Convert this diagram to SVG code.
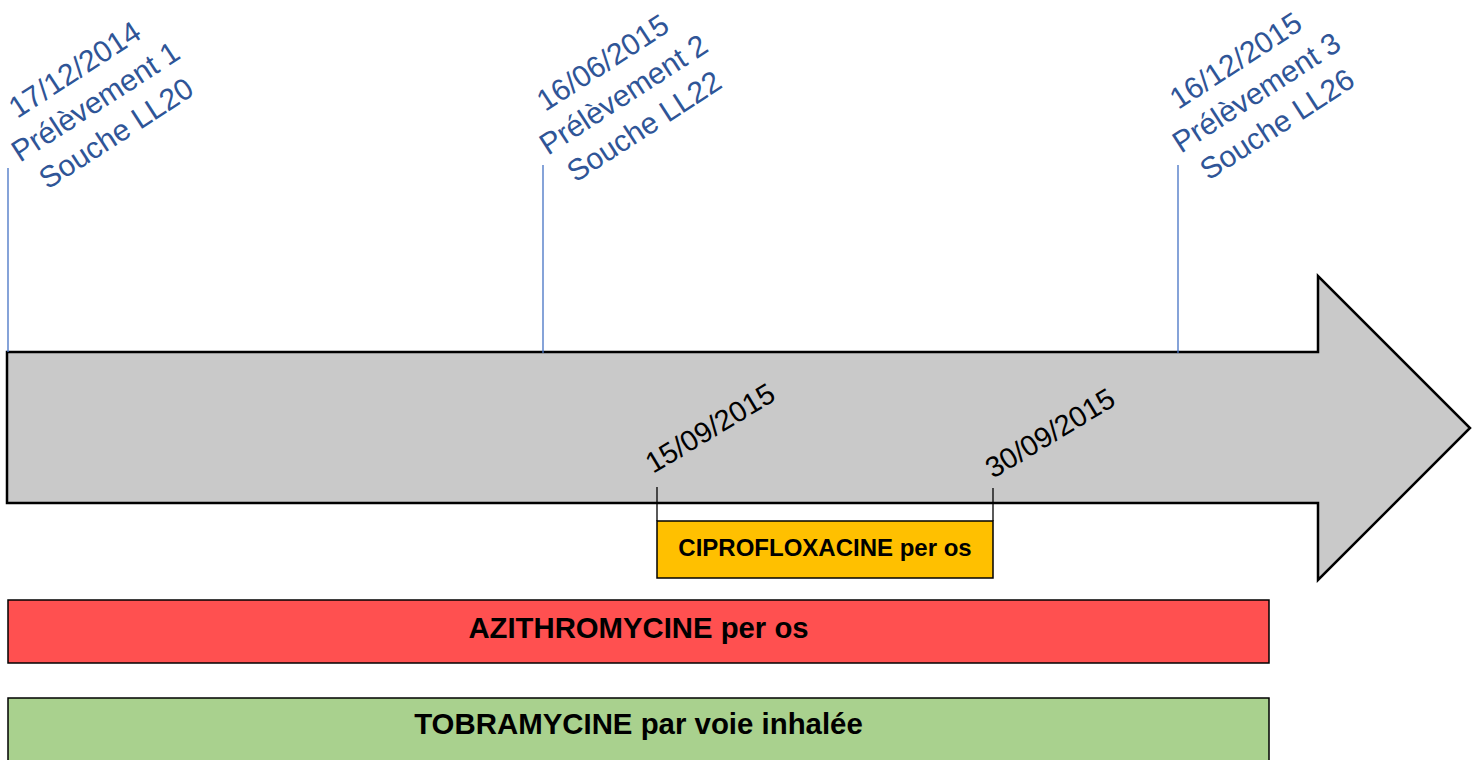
<svg xmlns="http://www.w3.org/2000/svg" width="1478" height="760" viewBox="0 0 1478 760">
  <style>
    .lbl { font-family: "Liberation Sans", Arial, sans-serif; font-size: 30px; fill: #2F5597; text-anchor: middle; }
    .date { font-family: "Liberation Sans", Arial, sans-serif; font-size: 29px; fill: #000; }
    .drug { font-family: "Liberation Sans", Arial, sans-serif; font-weight: bold; fill: #000; text-anchor: middle; }
    .mark { stroke: #4472C4; stroke-width: 1.3; }
    .tick { stroke: #000; stroke-width: 1.3; }
    .bar { stroke: #000; stroke-width: 1.5; }
  </style>

  <!-- timeline arrow -->
  <g id="timeline">
    <polygon points="7,352 1318,352 1318,276 1470,428 1318,580 1318,503 7,503" fill="#C9C9C9" stroke="#000" stroke-width="2.5" stroke-linejoin="miter"/>
  </g>

  <!-- sampling markers and treatment ticks -->
  <g id="connectors">
    <line class="mark" x1="8" y1="168" x2="8" y2="352"/>
    <line class="mark" x1="543" y1="165" x2="543" y2="353"/>
    <line class="mark" x1="1178" y1="165" x2="1178" y2="353"/>
    <line class="tick" x1="657" y1="487" x2="657" y2="521"/>
    <line class="tick" x1="993" y1="488" x2="993" y2="521"/>
  </g>

  <g id="sample1">
    <g transform="translate(101,110) rotate(-33)">
      <text class="lbl" x="0" y="-38">17/12/2014</text>
      <text class="lbl" x="0" y="0">Prélèvement 1</text>
      <text class="lbl" x="0" y="38">Souche LL20</text>
    </g>
  </g>

  <g id="sample2">
    <g transform="translate(629,103) rotate(-33)">
      <text class="lbl" x="0" y="-38">16/06/2015</text>
      <text class="lbl" x="0" y="0">Prélèvement 2</text>
      <text class="lbl" x="0" y="38">Souche LL22</text>
    </g>
  </g>

  <g id="sample3">
    <g transform="translate(1262,101) rotate(-33)">
      <text class="lbl" x="0" y="-38">16/12/2015</text>
      <text class="lbl" x="0" y="0">Prélèvement 3</text>
      <text class="lbl" x="0" y="38">Souche LL26</text>
    </g>
  </g>

  <g id="date-start">
    <text class="date" transform="translate(653,474) rotate(-31)">15/09/2015</text>
  </g>
  <g id="date-end">
    <text class="date" transform="translate(993,479) rotate(-31)">30/09/2015</text>
  </g>

  <g id="ciprofloxacine">
    <rect class="bar" x="657" y="521" width="336" height="57" fill="#FFC000"/>
    <text class="drug" x="825" y="556" font-size="24">CIPROFLOXACINE per os</text>
  </g>

  <g id="azithromycine">
    <rect class="bar" x="8" y="600" width="1261" height="63" fill="#FF5050"/>
    <text class="drug" x="638.5" y="638" font-size="29.3">AZITHROMYCINE per os</text>
  </g>

  <g id="tobramycine">
    <rect class="bar" x="8" y="698" width="1261" height="70" fill="#A9D18E"/>
    <text class="drug" x="638.5" y="734" font-size="29.4">TOBRAMYCINE par voie inhalée</text>
  </g>
</svg>
